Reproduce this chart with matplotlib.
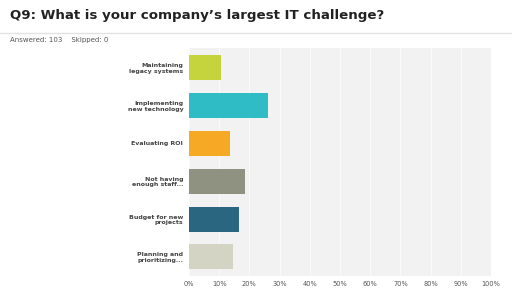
import numpy as np
import matplotlib.pyplot as plt

# answer choices, top to bottom
choices = ['Maintaining\nlegacy systems', 'Implementing\nnew technology', 'Evaluating ROI',
           'Not having\nenough staff...', 'Budget for new\nprojects', 'Planning and\nprioritizing...']
pcts = [10.7, 26.2, 13.6, 18.4, 16.5, 14.6]
colors = ['#c5d33c', '#2fbcc5', '#f6a924', '#8f9181', '#2b6680', '#d4d4c4']
ticks = [0, 10, 20, 30, 40, 50, 60, 70, 80, 90, 100]

fig = plt.figure(figsize=(5.12, 2.88), dpi=100)
fig.text(0.02, 0.945, "Q9: What is your company\u2019s largest IT challenge?",
         fontsize=9.6, fontweight='bold', color='#222222', va='center')
fig.add_artist(plt.Line2D([0.0, 1.0], [0.885, 0.885], color='#e2e2e2', lw=1))
fig.text(0.02, 0.862, 'Answered: 103    Skipped: 0', fontsize=5, color='#555555', va='center')

ax = fig.add_axes([0.369, 0.042, 0.59, 0.79])
ax.set_facecolor('#f2f2f2')
y = np.arange(len(choices))
ax.barh(y, pcts, height=0.66, color=colors, zorder=3)
ax.set_ylim(len(choices) - 0.5, -0.5)
ax.set_xlim(0, 100)
ax.set_xticks(ticks)
ax.set_xticklabels([f'{t}%' for t in ticks], fontsize=4.8, color='#555555')
ax.set_yticks(y)
ax.set_yticklabels(choices, fontsize=4.5, fontweight='bold', color='#444444')
ax.tick_params(length=0, pad=4)
ax.grid(axis='x', color='#fafafa', lw=0.8, zorder=0)
for s in ax.spines.values():
    s.set_visible(False)

fig.savefig('out.png', dpi=100)
